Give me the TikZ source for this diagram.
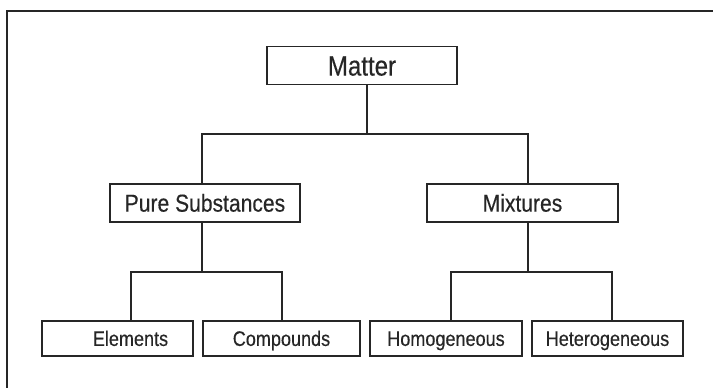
\documentclass[tikz,border=0pt]{standalone}
\usepackage{fontspec}
\newfontfamily\uni{Liberation Sans}[FakeStretch=0.86,FakeBold=0.3]
\definecolor{ink}{HTML}{262626}
\begin{document}
\begin{tikzpicture}[x=1pt,y=-1pt,
  every node/.style={inner sep=0pt},
  boxbase/.style={draw=ink,line width=1.2pt,text=ink,font=\uni},
  topbox/.style={boxbase,minimum width=190pt,minimum height=38pt,font=\uni\fontsize{28}{32}\selectfont,text height=19.5pt,text depth=0pt},
  midbox/.style={boxbase,minimum height=38pt,font=\uni\fontsize{24.5}{28}\selectfont,text height=17.3pt,text depth=0pt},
  lowbox/.style={boxbase,minimum height=35pt,font=\uni\fontsize{21}{25}\selectfont,text height=14.8pt,text depth=0pt},
  link/.style={draw=ink,line width=1.2pt,line join=miter}]
\useasboundingbox (0,0) rectangle (713,388);
\fill[white] (0,0) rectangle (713,388);
% outer frame (cropped on right and bottom)
\coordinate (frTR) at (714,11);
\coordinate (frTL) at (7,11);
\coordinate (frBL) at (7,389);
\draw[link] (frTR) -- (frTL) -- (frBL);
% nodes
\node[topbox] (matter) at (362,65.8) {Matter};
\node[midbox,minimum width=190pt] (pure) at (205,203) {Pure Substances};
\node[midbox,minimum width=191pt] (mix) at (522.5,203) {Mixtures};
\node[lowbox,minimum width=151pt] (elem) at (117.5,338.5) {\hspace*{26pt}Elements};
\node[lowbox,minimum width=157pt] (comp) at (281.5,338.5) {Compounds};
\node[lowbox,minimum width=152pt] (homo) at (446,338.5) {Homogeneous};
\node[lowbox,minimum width=151pt] (hete) at (607.5,338.5) {Heterogeneous};
% junctions
\coordinate (jM) at (367,134);
\coordinate (jL) at (202,134);
\coordinate (jR) at (528,134);
\coordinate (kP) at (202,272);
\coordinate (kPL) at (131,272);
\coordinate (kPR) at (282,272);
\coordinate (kM) at (528,272);
\coordinate (kML) at (451,272);
\coordinate (kMR) at (612,272);
% connectors
\draw[link] (matter.south -| jM) -- (jM);
\draw[link] (pure.north -| jL) -- (jL) -- (jR) -- (mix.north -| jR);
\draw[link] (pure.south -| kP) -- (kP);
\draw[link] (elem.north -| kPL) -- (kPL) -- (kPR) -- (comp.north -| kPR);
\draw[link] (mix.south -| kM) -- (kM);
\draw[link] (homo.north -| kML) -- (kML) -- (kMR) -- (hete.north -| kMR);
\end{tikzpicture}
\end{document}
